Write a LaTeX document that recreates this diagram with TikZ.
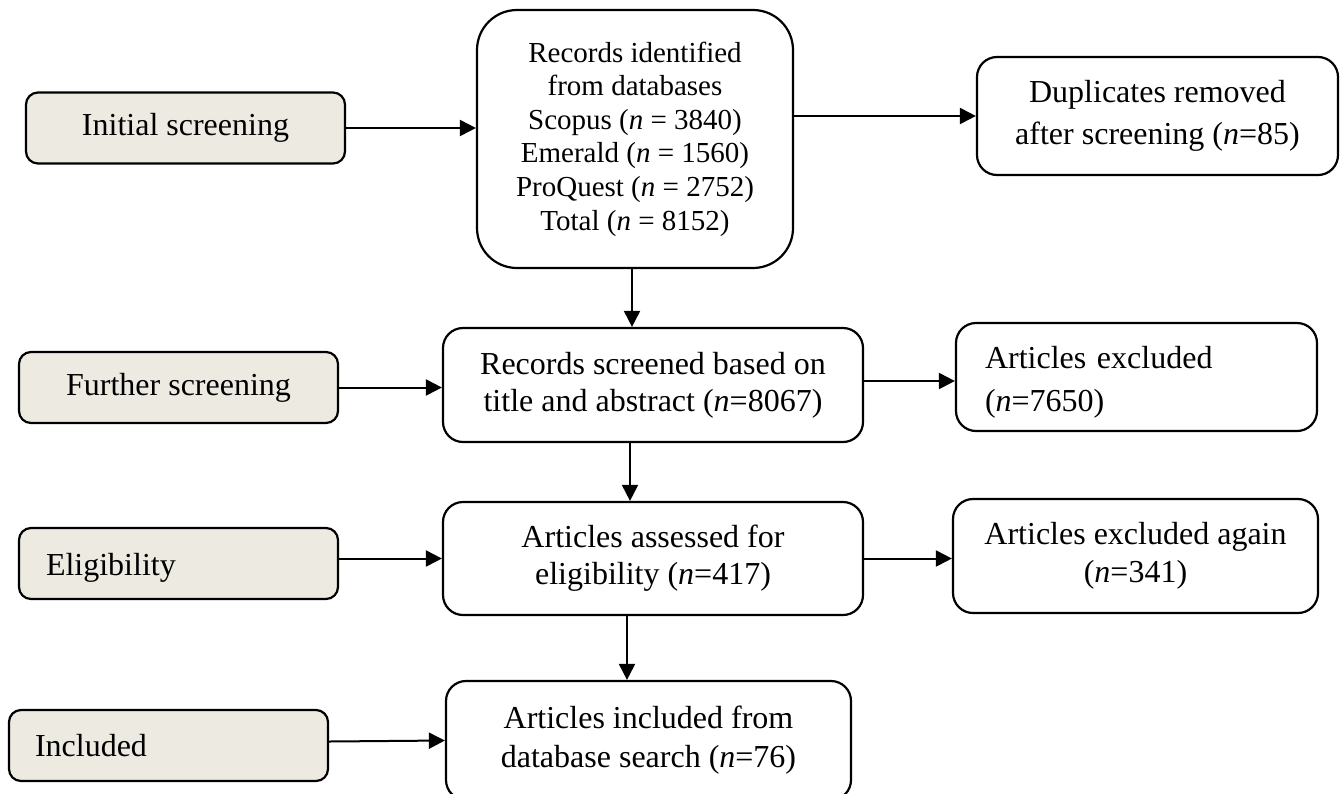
\documentclass[tikz,border=0pt]{standalone}
\usepackage{fontspec}
\setmainfont{Liberation Serif}
\usetikzlibrary{arrows.meta}
\definecolor{stagefill}{RGB}{237,234,226}
\begin{document}
\begin{tikzpicture}[x=1pt,y=-1pt,
  stage/.style={draw, fill=stagefill, line width=2.2pt, rounded corners=12pt,
    minimum width=319pt, minimum height=71pt, inner sep=0pt,
    font=\fontsize{32}{38}\selectfont},
  proc/.style={draw, line width=2.2pt, rounded corners=20pt, inner sep=0pt, align=center},
  arr/.style={line width=2pt, -{Triangle[length=16pt,width=16pt]}}]
\useasboundingbox (0,0) rectangle (1340,793);

% left stage boxes
\node[stage] (init) at (185.5,128) {Initial screening};
\node[stage] (further) at (178.5,387.5) {Further screening};
\node[stage, text width=265pt, align=left] (elig) at (178.5,563.5) {\rule{0pt}{30pt}Eligibility};
\node[stage, text width=267pt, align=left] (incl) at (168.5,745.5) {Included};

% centre column
\node[proc, rounded corners=40pt, minimum width=316pt, minimum height=258pt,
  font=\fontsize{29}{33.6}\selectfont] (rec) at (635,139)
  {Records identified\\from databases\\Scopus (\textit{n} = 3840)\\Emerald (\textit{n} = 1560)\\ProQuest (\textit{n} = 2752)\\Total (\textit{n} = 8152)};
\node[proc, minimum width=420pt, minimum height=114pt,
  font=\fontsize{32}{37}\selectfont] (scr) at (653,385)
  {Records screened based on\\title and abstract (\textit{n}=8067)};
\node[proc, minimum width=420pt, minimum height=113pt,
  font=\fontsize{32}{37}\selectfont] (ass) at (653,558.5)
  {Articles assessed for\\eligibility (\textit{n}=417)};
\node[proc, minimum width=405pt, minimum height=119pt,
  font=\fontsize{32}{39}\selectfont] (inc) at (648.5,740.5)
  {Articles included from\\database search (\textit{n}=76)};

% right column
\node[proc, minimum width=361pt, minimum height=118pt,
  font=\fontsize{32}{42}\selectfont] (dup) at (1157.5,116)
  {Duplicates removed\\after screening (\textit{n}=85)};
\node[proc, minimum width=361pt, minimum height=108pt, text width=303pt, align=left,
  font=\fontsize{32}{43}\selectfont] (exc) at (1136.5,377)
  {\rule{0pt}{32pt}Articles excluded\\(\textit{n}=7650)};
\node[proc, minimum width=365pt, minimum height=114pt,
  font=\fontsize{32}{38}\selectfont] (exa) at (1135.5,556)
  {Articles excluded again\\(\textit{n}=341)};

% connectors
\draw[arr] (init.east) -- (init.east -| rec.west);
\coordinate (r1) at (rec.east |- dup.west);
\draw[arr] (r1) -- (dup.west);
\coordinate (r2) at ([xshift=-3pt]rec.south);
\draw[arr] (r2) -- (r2 |- scr.north);
\draw[arr] (further.east) -- (further.east -| scr.west);
\coordinate (s1) at ([yshift=4pt]scr.east);
\draw[arr] (s1) -- (s1 -| exc.west);
\coordinate (s2) at ([xshift=-23pt]scr.south);
\draw[arr] (s2) -- (s2 |- ass.north);
\draw[arr] (elig.east |- ass.west) -- (ass.west);
\draw[arr] (ass.east) -- (ass.east -| exa.west);
\coordinate (a2) at ([xshift=-26pt]ass.south);
\draw[arr] (a2) -- (a2 |- inc.north);
\draw[arr] ([yshift=4pt]incl.east) -- (inc.west);
\end{tikzpicture}
\end{document}
